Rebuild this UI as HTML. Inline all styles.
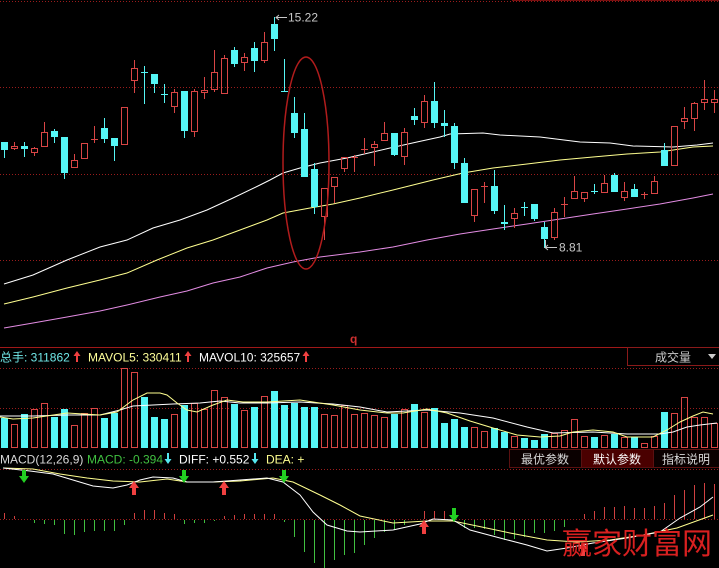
<!DOCTYPE html>
<html><head><meta charset="utf-8">
<style>
html,body{margin:0;padding:0;background:#000;}
body{width:719px;height:568px;overflow:hidden;position:relative;}
svg{position:absolute;left:0;top:0;}
text{font-family:"Liberation Sans","Noto Sans CJK SC",sans-serif;}
</style></head><body>
<svg width="719" height="568" viewBox="0 0 719 568" xmlns="http://www.w3.org/2000/svg">
<rect x="0" y="0" width="719" height="568" fill="#000"/>
<g stroke="#9a1c1c" stroke-width="1" stroke-dasharray="1 2" shape-rendering="crispEdges">
<path d="M0 1.5H719M0 87.5H719M0 174.5H719M0 260.5H719M0 368.5H719M0 408.5H719M0 469.5H719M0 519.5H719"/>
</g>
<path d="M512 0.5H719" stroke="#7a1010" stroke-width="1"/>
<path d="M0 347.5H719" stroke="#a01818" stroke-width="1" shape-rendering="crispEdges"/>

<g fill="none" stroke-width="1">
<polyline stroke="#ffffff" points="4,284 33,275 67,260 100,247 127,240 153,228 180,220 207,210 233,198 260,185 270,180 283,173 300,168 320,163 347,158 360,155 390,148 417,142 440,137 450,134 483,133 500,135 540,137 580,142 610,143 633,146 673,147 697,145 713,143"/>
<polyline stroke="#ffff90" points="4,304 33,297 67,288 100,280 127,273 157,260 187,248 213,240 240,230 267,220 283,213 310,208 333,204 360,198 393,190 433,180 463,173 493,168 527,164 560,160 593,157 627,154 660,152 693,147 713,146"/>
<polyline stroke="#e38ce3" points="4,328 33,323 67,317 100,311 127,305 160,297 187,291 213,283 240,277 267,268 293,262 320,257 360,252 393,247 427,240 460,234 493,229 527,224 560,219 593,214 627,209 660,204 693,198 713,194"/>
</g>

<g shape-rendering="crispEdges">
<path stroke="#55f5f5" stroke-width="1" d="M4.5 142V158M24.5 142V157M54.5 129V143M64.5 137V179M104.5 118V143M114.5 138V161M144.5 66V104M154.5 74V93M164.5 84V103M184.5 91V138M234.5 47V67M254.5 42V72M274.5 17V51M284.5 59V92M294.5 97V138M304.5 113V177M314.5 163V214M394.5 133V156M414.5 108V125M434.5 82V128M444.5 110V137M454.5 123V169M464.5 158V203M494.5 170V214M504.5 205V230M524.5 202V216M534.5 204V221M544.5 222V248M594.5 184V194M614.5 173V192M634.5 184V197M664.5 143V166"/>
<g fill="#55f5f5">
<rect x="1" y="142" width="7" height="8"/>
<rect x="21" y="146" width="7" height="3"/>
<rect x="51" y="131" width="7" height="6"/>
<rect x="61" y="137" width="7" height="36"/>
<rect x="101" y="128" width="7" height="11"/>
<rect x="111" y="138" width="7" height="8"/>
<rect x="141" y="72" width="7" height="1"/>
<rect x="151" y="74" width="7" height="10"/>
<rect x="161" y="94" width="7" height="1"/>
<rect x="181" y="91" width="7" height="40"/>
<rect x="231" y="50" width="7" height="14"/>
<rect x="251" y="48" width="7" height="13"/>
<rect x="271" y="24" width="7" height="15"/>
<rect x="281" y="91" width="7" height="1"/>
<rect x="291" y="113" width="7" height="20"/>
<rect x="301" y="129" width="7" height="48"/>
<rect x="311" y="169" width="7" height="38"/>
<rect x="391" y="133" width="7" height="22"/>
<rect x="411" y="116" width="7" height="4"/>
<rect x="431" y="101" width="7" height="22"/>
<rect x="441" y="123" width="7" height="3"/>
<rect x="451" y="126" width="7" height="37"/>
<rect x="461" y="163" width="7" height="40"/>
<rect x="491" y="186" width="7" height="25"/>
<rect x="501" y="222" width="7" height="2"/>
<rect x="521" y="207" width="7" height="1"/>
<rect x="531" y="204" width="7" height="15"/>
<rect x="541" y="227" width="7" height="12"/>
<rect x="591" y="191" width="7" height="1"/>
<rect x="611" y="175" width="7" height="17"/>
<rect x="631" y="189" width="7" height="8"/>
<rect x="661" y="150" width="7" height="16"/>
</g>
<g stroke="#d94545" stroke-width="1" fill="none">
<path d="M14.5 142V146M14.5 149V150M34.5 147V148M34.5 153V156M44.5 122V132M74.5 154V160M94.5 126V143M91 139.5H98M134.5 60V68M134.5 81V93M174.5 89V92M174.5 107V113M194.5 89V91M194.5 132V137M204.5 77V90M204.5 93V99M214.5 50V72M214.5 90V92M224.5 55V58M244.5 53V57M244.5 63V71M264.5 32V42M264.5 61V63M324.5 217V240M334.5 187V203M344.5 169V172M354.5 155V172M351 157.5H358M364.5 138V154M361 149.5H368M374.5 141V144M374.5 148V166M384.5 122V133M404.5 128V132M404.5 157V165M424.5 95V101M424.5 123V128M474.5 216V222M484.5 182V203M481 186.5H488M514.5 208V213M514.5 219V228M554.5 208V212M554.5 238V240M564.5 197V217M561 204.5H568M574.5 176V191M584.5 199V202M604.5 175V183M624.5 182V191M624.5 198V201M644.5 192V199M641 194.5H648M654.5 176V181M684.5 107V118M684.5 122V129M694.5 102V103M694.5 119V131M704.5 80V99M704.5 103V110M714.5 90V99M714.5 103V113"/>
<rect x="11.5" y="146.5" width="6" height="2"/>
<rect x="31.5" y="148.5" width="6" height="4"/>
<rect x="41.5" y="132.5" width="6" height="14"/>
<rect x="71.5" y="160.5" width="6" height="7"/>
<rect x="81.5" y="143.5" width="6" height="15"/>
<rect x="121.5" y="107.5" width="6" height="37"/>
<rect x="131.5" y="68.5" width="6" height="12"/>
<rect x="171.5" y="92.5" width="6" height="14"/>
<rect x="191.5" y="91.5" width="6" height="40"/>
<rect x="201.5" y="90.5" width="6" height="2"/>
<rect x="211.5" y="72.5" width="6" height="17"/>
<rect x="221.5" y="58.5" width="6" height="35"/>
<rect x="241.5" y="57.5" width="6" height="5"/>
<rect x="261.5" y="42.5" width="6" height="18"/>
<rect x="321.5" y="188.5" width="6" height="28"/>
<rect x="331.5" y="177.5" width="6" height="9"/>
<rect x="341.5" y="157.5" width="6" height="11"/>
<rect x="371.5" y="144.5" width="6" height="3"/>
<rect x="381.5" y="133.5" width="6" height="7"/>
<rect x="401.5" y="132.5" width="6" height="24"/>
<rect x="421.5" y="101.5" width="6" height="21"/>
<rect x="471.5" y="189.5" width="6" height="26"/>
<rect x="511.5" y="213.5" width="6" height="5"/>
<rect x="551.5" y="212.5" width="6" height="25"/>
<rect x="571.5" y="191.5" width="6" height="7"/>
<rect x="581.5" y="192.5" width="6" height="6"/>
<rect x="601.5" y="183.5" width="6" height="9"/>
<rect x="621.5" y="191.5" width="6" height="6"/>
<rect x="651.5" y="181.5" width="6" height="12"/>
<rect x="671.5" y="126.5" width="6" height="39"/>
<rect x="681.5" y="118.5" width="6" height="3"/>
<rect x="691.5" y="103.5" width="6" height="15"/>
<rect x="701.5" y="99.5" width="6" height="3"/>
<rect x="711.5" y="99.5" width="6" height="3"/>
</g>
</g>

<ellipse cx="306" cy="163" rx="23" ry="106" fill="none" stroke="#b01c1c" stroke-width="1.5"/>

<g stroke="#c8c8c8" stroke-width="1" fill="none">
<path d="M276 17.5H287M279 15L276 17.5L279 20"/>
<path d="M545.5 240V247.5H557M548 245L545 247.5L548 250"/>
</g>
<text x="288" y="21.5" font-size="12" fill="#c8c8c8">15.22</text>
<text x="559" y="251.5" font-size="12" fill="#c8c8c8">8.81</text>

<text x="350" y="343" font-size="12" font-weight="bold" fill="#d03030">q</text>

<text x="0" y="361.5" font-size="12" fill="#70e8e8">总手: 311862</text>
<text x="88" y="361.5" font-size="12" fill="#ffff99">MAVOL5: 330411</text>
<text x="199" y="361.5" font-size="12" fill="#ffffff">MAVOL10: 325657</text>
<g fill="#f04040">
<path d="M77 351L73.5 356H76V362H78V356H80.5Z"/>
<path d="M188 351L184.5 356H187V362H189V356H191.5Z"/>
<path d="M306 351L302.5 356H305V362H307V356H309.5Z"/>
</g>
<rect x="627.5" y="347.5" width="92" height="18" fill="#000" stroke="#8b1a1a" stroke-width="1"/>
<text x="655" y="361.5" font-size="12" fill="#cccccc">成交量</text>
<path d="M708 354H716L712 359Z" fill="#cccccc"/>

<g shape-rendering="crispEdges">
<g fill="#55f5f5">
<rect x="1" y="418" width="7" height="30"/>
<rect x="21" y="414" width="7" height="34"/>
<rect x="51" y="417" width="7" height="31"/>
<rect x="61" y="409" width="7" height="39"/>
<rect x="101" y="418" width="7" height="30"/>
<rect x="111" y="413" width="7" height="35"/>
<rect x="141" y="397" width="7" height="51"/>
<rect x="151" y="417" width="7" height="31"/>
<rect x="161" y="419" width="7" height="29"/>
<rect x="181" y="405" width="7" height="43"/>
<rect x="231" y="404" width="7" height="44"/>
<rect x="251" y="407" width="7" height="41"/>
<rect x="271" y="391" width="7" height="57"/>
<rect x="281" y="405" width="7" height="43"/>
<rect x="291" y="403" width="7" height="45"/>
<rect x="301" y="407" width="7" height="41"/>
<rect x="311" y="407" width="7" height="41"/>
<rect x="391" y="414" width="7" height="34"/>
<rect x="411" y="404" width="7" height="44"/>
<rect x="431" y="408" width="7" height="40"/>
<rect x="441" y="423" width="7" height="25"/>
<rect x="451" y="419" width="7" height="29"/>
<rect x="461" y="427" width="7" height="21"/>
<rect x="491" y="428" width="7" height="20"/>
<rect x="501" y="432" width="7" height="16"/>
<rect x="521" y="438" width="7" height="10"/>
<rect x="531" y="440" width="7" height="8"/>
<rect x="541" y="434" width="7" height="14"/>
<rect x="591" y="437" width="7" height="11"/>
<rect x="611" y="434" width="7" height="14"/>
<rect x="631" y="437" width="7" height="11"/>
<rect x="661" y="412" width="7" height="36"/>
</g>
<g fill="none" stroke="#d94545" stroke-width="1">
<rect x="11.5" y="424.5" width="6" height="23"/>
<rect x="31.5" y="409.5" width="6" height="38"/>
<rect x="41.5" y="403.5" width="6" height="44"/>
<rect x="71.5" y="425.5" width="6" height="22"/>
<rect x="81.5" y="413.5" width="6" height="34"/>
<rect x="91.5" y="408.5" width="6" height="39"/>
<rect x="121.5" y="368.5" width="6" height="79"/>
<rect x="131.5" y="372.5" width="6" height="75"/>
<rect x="171.5" y="414.5" width="6" height="33"/>
<rect x="191.5" y="403.5" width="6" height="44"/>
<rect x="201.5" y="409.5" width="6" height="38"/>
<rect x="211.5" y="390.5" width="6" height="57"/>
<rect x="221.5" y="397.5" width="6" height="50"/>
<rect x="241.5" y="410.5" width="6" height="37"/>
<rect x="261.5" y="396.5" width="6" height="51"/>
<rect x="321.5" y="414.5" width="6" height="33"/>
<rect x="331.5" y="415.5" width="6" height="32"/>
<rect x="341.5" y="405.5" width="6" height="42"/>
<rect x="351.5" y="414.5" width="6" height="33"/>
<rect x="361.5" y="413.5" width="6" height="34"/>
<rect x="371.5" y="415.5" width="6" height="32"/>
<rect x="381.5" y="417.5" width="6" height="30"/>
<rect x="401.5" y="409.5" width="6" height="38"/>
<rect x="421.5" y="412.5" width="6" height="35"/>
<rect x="471.5" y="427.5" width="6" height="20"/>
<rect x="481.5" y="431.5" width="6" height="16"/>
<rect x="511.5" y="436.5" width="6" height="11"/>
<rect x="551.5" y="433.5" width="6" height="14"/>
<rect x="561.5" y="430.5" width="6" height="17"/>
<rect x="571.5" y="419.5" width="6" height="28"/>
<rect x="581.5" y="436.5" width="6" height="11"/>
<rect x="601.5" y="435.5" width="6" height="12"/>
<rect x="621.5" y="437.5" width="6" height="10"/>
<rect x="641.5" y="443.5" width="6" height="4"/>
<rect x="651.5" y="436.5" width="6" height="11"/>
<rect x="671.5" y="413.5" width="6" height="34"/>
<rect x="681.5" y="397.5" width="6" height="50"/>
<rect x="691.5" y="417.5" width="6" height="30"/>
<rect x="701.5" y="417.5" width="6" height="30"/>
<rect x="711.5" y="423.5" width="6" height="24"/>
</g>
</g>
<g fill="none" stroke-width="1">
<polyline stroke="#ffffff" points="0,416 33,416 67,415 100,415 120,410 133,406 153,405 173,404 200,403 220,401 240,403 267,403 300,402 333,404 360,407 387,412 427,410 460,413 493,418 527,427 553,433 593,432 627,434 660,434 673,432 687,427 700,425 717,423"/>
<polyline stroke="#ffff90" points="0,417 13,419 33,418 67,413 100,415 117,412 133,400 147,393 160,393 167,395 177,403 187,410 197,412 213,405 227,400 243,402 267,402 300,400 313,402 333,405 360,410 387,413 403,413 427,409 447,413 470,421 493,428 517,435 540,437 560,436 573,432 593,430 613,432 627,437 653,437 667,430 680,422 693,416 703,412 713,414"/>
</g>

<text x="0" y="463.5" font-size="12" fill="#d8d8d8">MACD(12,26,9)</text>
<text x="87" y="463.5" font-size="12" fill="#40c040">MACD: -0.394</text>
<text x="179" y="463.5" font-size="12" fill="#ffffff">DIFF: +0.552</text>
<text x="266" y="463.5" font-size="12" fill="#ffff90">DEA: +</text>
<g fill="#55e8f0">
<path d="M168 464L164.5 459H167V453H169V459H171.5Z"/>
<path d="M255 464L251.5 459H254V453H256V459H258.5Z"/>
</g>
<rect x="509.5" y="449.5" width="72" height="18" fill="#0a0000" stroke="#5a1010"/>
<rect x="581.5" y="449.5" width="72" height="18" fill="#4a0000" stroke="#5a1010"/>
<rect x="653.5" y="449.5" width="66" height="18" fill="#0a0000" stroke="#5a1010"/>
<text x="521" y="463.5" font-size="12" fill="#d8d8d8">最优参数</text>
<text x="593" y="463.5" font-size="12" fill="#ffffff">默认参数</text>
<text x="662" y="463.5" font-size="12" fill="#d8d8d8">指标说明</text>

<g stroke-width="1" shape-rendering="crispEdges">
<path stroke="#d04040" d="M4.5 519V513M14.5 519V516M134.5 519V513M144.5 519V510M154.5 519V510M164.5 519V513M174.5 519V514M224.5 519V516M234.5 519V515M244.5 519V514M254.5 519V514M264.5 519V514M274.5 519V514M424.5 519V511M434.5 519V511M444.5 519V511M584.5 519V514M594.5 519V511M604.5 519V507M614.5 519V507M624.5 519V506M634.5 519V508M644.5 519V508M654.5 519V506M664.5 519V503M674.5 519V495M684.5 519V490M694.5 519V485M704.5 519V483M714.5 519V484"/>
<path stroke="#40c040" d="M34.5 520V523M44.5 520V524M54.5 520V525M64.5 520V534M74.5 520V535M84.5 520V532M94.5 520V531M104.5 520V531M114.5 520V531M124.5 520V525M184.5 520V524M194.5 520V523M204.5 520V523M214.5 520V521M284.5 520V522M294.5 520V537M304.5 520V552M314.5 520V563M324.5 520V568M334.5 520V560M344.5 520V555M354.5 520V553M364.5 520V545M374.5 520V538M384.5 520V532M394.5 520V530M404.5 520V525M464.5 520V528M474.5 520V528M484.5 520V529M494.5 520V535M504.5 520V540M514.5 520V539M524.5 520V537M534.5 520V533M544.5 520V533M554.5 520V531M564.5 520V527"/>
</g>
<g fill="none" stroke-width="1">
<polyline stroke="#ffff90" points="3,468 33,469 60,474 87,478 113,481 140,482 167,479 187,482 213,482 240,481 273,478 293,482 320,495 340,505 360,516 393,523 427,521 453,521 477,526 510,533 547,540 577,542 610,540 643,535 677,528 713,515"/>
<polyline stroke="#ffffff" points="3,468 30,471 53,474 73,480 93,486 113,488 127,485 140,480 153,477 173,478 187,482 213,482 240,480 267,478 283,482 300,495 313,512 327,525 347,531 360,532 393,530 420,524 433,519 453,520 470,530 500,538 527,545 547,551 567,548 593,543 627,538 660,532 680,518 700,507 713,497"/>
</g>
<g fill="#22d022">
<path d="M22 470H26V476H29L24 483L19 476H22Z"/>
<path d="M182 470H186V476H189L184 483L179 476H182Z"/>
<path d="M282 470H286V476H289L284 483L279 476H282Z"/>
<path d="M452 508H456V515H459L454 522L449 515H452Z"/>
</g>
<g fill="#f04040">
<path d="M132 495H136V488H139L134 481L129 488H132Z"/>
<path d="M222 495H226V488H229L224 481L219 488H222Z"/>
<path d="M422 534H426V527H429L424 520L419 527H422Z"/>
<path d="M581 556H585V549H588L583 542L578 549H581Z"/>
</g>

<text x="562" y="554" font-size="30" fill="#d82020" font-family="'Noto Serif CJK SC','Liberation Serif',serif">赢家财富网</text>
</svg>
</body></html>
